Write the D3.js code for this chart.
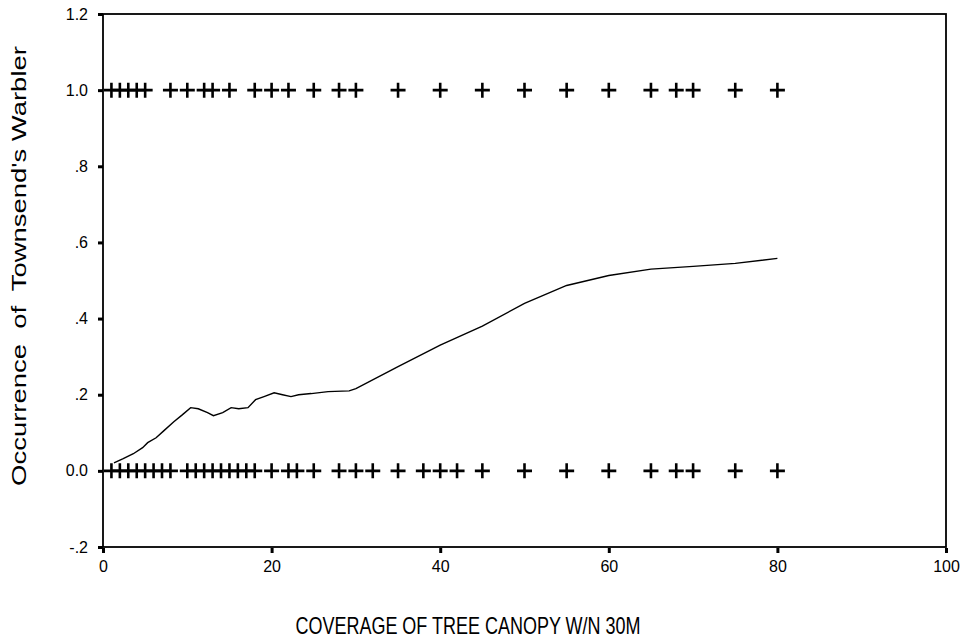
<!DOCTYPE html>
<html>
<head>
<meta charset="utf-8">
<script src="https://cdn.jsdelivr.net/npm/d3@7"></script>
<style>
  body { margin: 0; background: #fff; }
  text { font-family: Arial, "Liberation Sans", sans-serif; fill: #000; }
</style>
</head>
<body>
<div id="chart"></div>
<script>
// observed birds (occurrence = 1) and absences (occurrence = 0), by canopy cover
const presentX = [1, 2, 3, 4, 5, 8, 10, 12, 13, 15, 18, 20, 22, 25, 28, 30, 35, 40, 45, 50, 55, 60, 65, 68, 70, 75, 80];
const absentX = [1, 2, 3, 4, 5, 6, 7, 8, 10, 11, 12, 13, 14, 15, 16, 17, 18, 20, 22, 23, 25, 28, 30, 32, 35, 38, 40, 42, 45, 50, 55, 60, 65, 68, 70, 75, 80];

// smoothed fit line
const fitX = [1.3, 2.4, 3.6, 4.7, 5.3, 6.3, 7.2, 8.4, 9.4, 10.4, 11.3, 12.4, 13.1, 14.2, 15.2, 16.1, 17.2, 18.1, 19.1, 20.3, 21.3, 22.3, 23.2, 24.7, 26.7, 29.2, 30, 35, 40, 45, 50, 55, 60, 65, 70, 75, 80];
const fitY = [0.021, 0.032, 0.045, 0.061, 0.074, 0.087, 0.105, 0.129, 0.147, 0.166, 0.163, 0.153, 0.145, 0.153, 0.166, 0.163, 0.166, 0.187, 0.195, 0.205, 0.2, 0.195, 0.2, 0.203, 0.208, 0.21, 0.216, 0.274, 0.33, 0.38, 0.44, 0.487, 0.513, 0.53, 0.537, 0.545, 0.558];

const xTicks = [0, 20, 40, 60, 80, 100];
const yTicks = [-0.2, 0, 0.2, 0.4, 0.6, 0.8, 1.0, 1.2];

const width = 960;
const height = 643;
const margin = { top: 14, right: 14, bottom: 96, left: 103 };

const svg = d3.select('#chart')
  .append('svg')
  .attr('width', width)
  .attr('height', height);

const x = d3.scaleLinear()
  .domain([0, 100])
  .range([margin.left, width - margin.right]);

const y = d3.scaleLinear()
  .domain([-0.2, 1.2])
  .range([height - margin.bottom, margin.top]);

// SPSS style: 0.0, 1.0, 1.2 but .2, .4, -.2
const fmtY = v => {
  if (Math.abs(v) < 1e-9) return '0.0';
  if (Math.abs(v) >= 1) return v.toFixed(1);
  return (v < 0 ? '-' : '') + Math.abs(v).toFixed(1).replace('0.', '.');
};

// frame
svg.append('rect')
  .attr('x', x(0))
  .attr('y', y(1.2))
  .attr('width', x(100) - x(0))
  .attr('height', y(-0.2) - y(1.2))
  .attr('fill', 'none')
  .attr('stroke', '#000')
  .attr('stroke-width', 1.8);

// axes
const yAxis = g => g
  .attr('transform', `translate(${x(0)},0)`)
  .call(d3.axisLeft(y).tickValues(yTicks).tickFormat(fmtY).tickSize(5).tickPadding(10))
  .call(g => g.select('.domain').remove())
  .call(g => g.selectAll('line').attr('stroke', '#000').attr('stroke-width', 3))
  .call(g => g.selectAll('text').attr('font-size', 16).attr('font-family', 'Arial, "Liberation Sans", sans-serif'));

const xAxis = g => g
  .attr('transform', `translate(0,${y(-0.2) + 1})`)
  .call(d3.axisBottom(x).tickValues(xTicks).tickFormat(d3.format('d')).tickSize(5).tickPadding(8))
  .call(g => g.select('.domain').remove())
  .call(g => g.selectAll('line').attr('stroke', '#000').attr('stroke-width', 3))
  .call(g => g.selectAll('text').attr('font-size', 16).attr('font-family', 'Arial, "Liberation Sans", sans-serif'));

svg.append('g').call(yAxis);
svg.append('g').call(xAxis);

// plus markers
const half = 7.5;
const drawPluses = (xs, val) => {
  svg.append('g')
    .selectAll('path')
    .data(xs)
    .join('path')
    .attr('d', d => `M${x(d) - half},${y(val)}H${x(d) + half}M${x(d)},${y(val) - half}V${y(val) + half}`)
    .attr('stroke', '#000')
    .attr('stroke-width', 2.6)
    .attr('fill', 'none');
};
drawPluses(presentX, 1);
drawPluses(absentX, 0);

// fit line
const line = d3.line()
  .x((d, i) => x(fitX[i]))
  .y(d => y(d));

svg.append('path')
  .datum(fitY)
  .attr('d', line)
  .attr('fill', 'none')
  .attr('stroke', '#000')
  .attr('stroke-width', 1.4);

// titles -- the original export is stretched vertically, so the text is too
svg.append('text')
  .attr('transform', 'translate(468,634) scale(1,1.3)')
  .attr('text-anchor', 'middle')
  .attr('font-size', 18)
  .text('COVERAGE OF TREE CANOPY W/N 30M');

const yTitle = svg.append('text')
  .attr('text-anchor', 'middle')
  .attr('font-size', 20)
  .attr('xml:space', 'preserve')
  .style('white-space', 'pre')
  .text("Occurrence  of  Townsend's Warbler");

const stretch = 440 / yTitle.node().getComputedTextLength();
yTitle.attr('transform', `translate(26,266) scale(1,${stretch}) rotate(-90)`);
</script>
</body>
</html>
